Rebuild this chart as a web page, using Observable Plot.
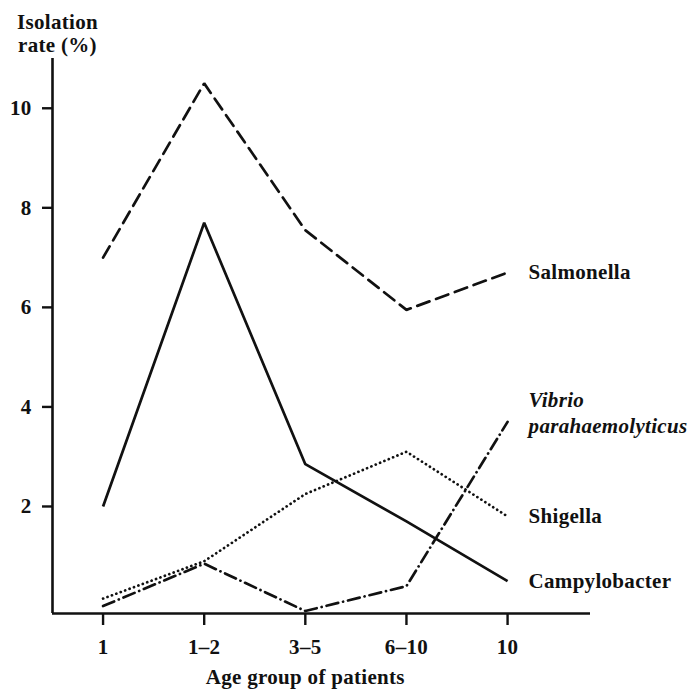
<!DOCTYPE html>
<html>
<head>
<meta charset="utf-8">
<script src="https://cdn.jsdelivr.net/npm/d3@7"></script>
<script src="https://cdn.jsdelivr.net/npm/@observablehq/plot@0.6"></script>
<style>
  body { margin: 0; background: #fff; }
  #chart svg { display: block; }
</style>
</head>
<body>
<div id="chart"></div>
<script>
// ---- Data ----
const categories = ["1", "1–2", "3–5", "6–10", "10"];
const seriesNames = ["Salmonella", "Campylobacter", "Shigella", "Vibrio parahaemolyticus"];
const salmonella = [7.0, 10.5, 7.55, 5.95, 6.7];
const campylobacter = [2.0, 7.7, 2.85, 1.7, 0.5];
const shigella = [0.15, 0.9, 2.25, 3.1, 1.8];
const vibrio = [0.0, 0.85, -0.1, 0.4, 3.7];
const yTicks = [2, 4, 6, 8, 10];
const yTitle = ["Isolation", "rate (%)"];
const xTitle = "Age group of patients";

// ---- Styles (separate from data) ----
const seriesValues = [salmonella, campylobacter, shigella, vibrio];
const dashes = {
  "Salmonella": "13,7",
  "Campylobacter": null,
  "Shigella": "0.1,4.6",
  "Vibrio parahaemolyticus": "12,5,0.1,5"
};
const labelText = {
  "Salmonella": "Salmonella",
  "Campylobacter": "Campylobacter",
  "Shigella": "Shigella",
  "Vibrio parahaemolyticus": "Vibrio\nparahaemolyticus"
};

const rows = seriesNames.flatMap((name, i) =>
  seriesValues[i].map((v, j) => ({series: name, x: j, y: v}))
);
const ends = seriesNames.map((name, i) => ({
  series: name, x: categories.length - 1, y: seriesValues[i][categories.length - 1]
}));

const ink = "#111";
const font = "'Liberation Serif', 'Times New Roman', serif";
const fs = 21;

const lineMarks = seriesNames.map(name => Plot.line(rows.filter(d => d.series === name), {
  x: "x", y: "y", stroke: ink, strokeWidth: 2.7,
  strokeDasharray: dashes[name] || undefined,
  strokeLinecap: dashes[name] ? "round" : "butt",
  strokeLinejoin: "miter"
}));

const chart = Plot.plot({
  width: 690,
  height: 692,
  marginLeft: 52,
  marginRight: 100,
  marginTop: 58,
  marginBottom: 79,
  style: {fontFamily: font, fontSize: fs + "px", fontWeight: "bold", letterSpacing: "0.3px", color: ink, background: "#fff", overflow: "visible"},
  x: {domain: [-0.5, 4.82], axis: null},
  y: {domain: [-0.15, 11], axis: null},
  marks: [
    Plot.axisY(yTicks, {tickSize: 10, tickPadding: 11, strokeWidth: 2.4, stroke: ink, fill: ink, fontSize: fs, tickFormat: d => String(d), label: null}),
    Plot.axisX(d3.range(categories.length), {tickSize: 12, tickPadding: 14, strokeWidth: 2.4, stroke: ink, fill: ink, fontSize: fs, tickFormat: i => categories[i], label: null}),
    Plot.ruleX([-0.5], {y1: -0.15, y2: 11, stroke: ink, strokeWidth: 2.6}),
    Plot.ruleY([-0.15], {x1: -0.5, x2: 4.82, stroke: ink, strokeWidth: 2.6}),
    ...lineMarks,
    Plot.text(ends.filter(d => d.series !== "Vibrio parahaemolyticus"), {
      x: "x", y: "y", text: d => labelText[d.series], dx: 21, textAnchor: "start", fill: ink, fontSize: fs
    }),
    Plot.text(ends.filter(d => d.series === "Vibrio parahaemolyticus"), {
      x: "x", y: "y", text: d => labelText[d.series], dx: 21, dy: -10, textAnchor: "start", lineAnchor: "middle", lineHeight: 1.25, fontStyle: "italic", fill: ink, fontSize: fs
    }),
    Plot.text([yTitle.join("\n")], {frameAnchor: "top-left", dx: 5, dy: -46, textAnchor: "middle", lineAnchor: "top", lineHeight: 1.1, fill: ink, fontSize: fs}),
    Plot.text([xTitle], {x: () => 2, frameAnchor: "bottom", dy: 70, textAnchor: "middle", fill: ink, fontSize: fs})
  ]
});
document.getElementById("chart").append(chart);
</script>
</body>
</html>
